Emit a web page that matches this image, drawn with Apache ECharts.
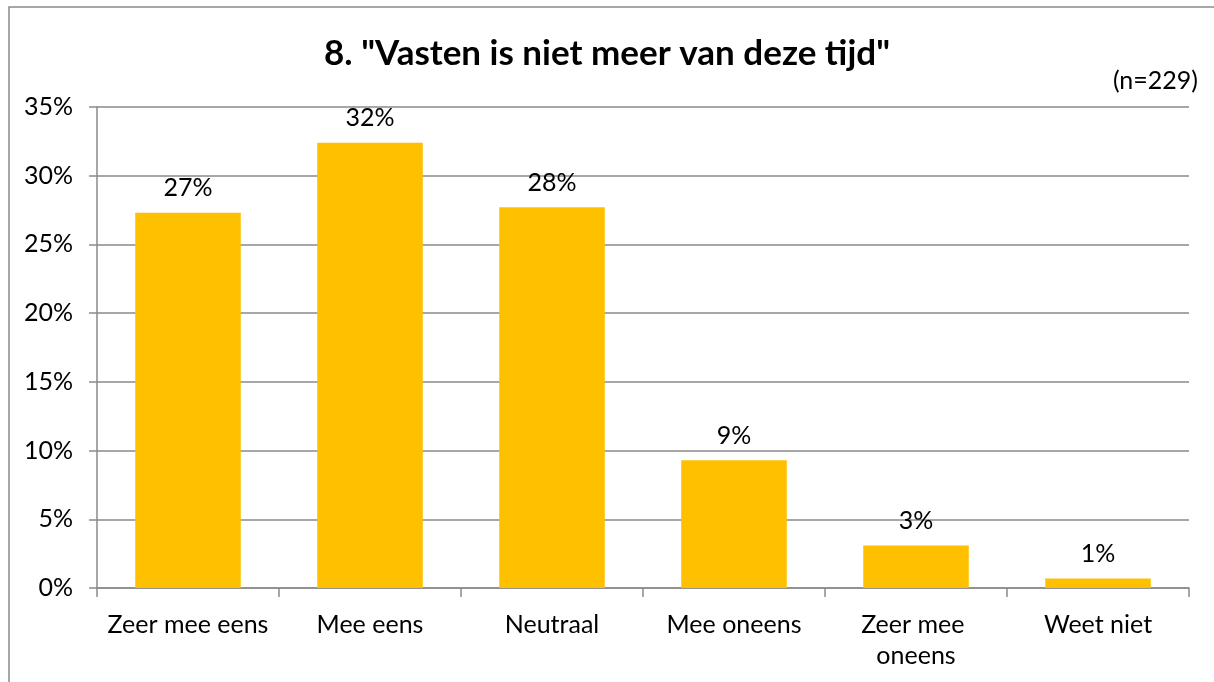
<!DOCTYPE html>
<html>
<head>
<meta charset="utf-8">
<script src="https://cdn.jsdelivr.net/npm/echarts@6/dist/echarts.min.js"></script>
<style>
html,body{margin:0;padding:0;background:#fff;}
#chart{width:1214px;height:682px;}
</style>
</head>
<body>
<div id="chart"></div>
<script>
const categories = ['Zeer mee eens', 'Mee eens', 'Neutraal', 'Mee oneens', 'Zeer mee oneens', 'Weet niet'];
const values = [27.3, 32.4, 27.7, 9.3, 3.1, 0.7];
const yTicks = [0, 5, 10, 15, 20, 25, 30, 35];
const titleText = '8. "Vasten is niet meer van deze tijd"';
const noteText = '(n=229)';

const FONT = 'Lato';
const chart = echarts.init(document.getElementById('chart'));
chart.setOption({
  animation: false,
  backgroundColor: '#fff',
  title: {
    text: titleText,
    left: 'center',
    top: 31,
    textStyle: { fontFamily: FONT, fontWeight: 'bold', fontSize: 35, color: '#000' }
  },
  graphic: [
    { type: 'rect', shape: { x: 9, y: 7, width: 1400, height: 900 }, style: { fill: 'none', stroke: '#8a8a8a', lineWidth: 1.5 }, silent: true },
    { type: 'text', right: 16, top: 68, style: { text: noteText, font: '25px ' + FONT, fill: '#000' } }
  ],
  grid: { left: 97, right: 25, top: 107, bottom: 94, containLabel: false },
  xAxis: {
    type: 'category',
    data: categories,
    axisLine: { lineStyle: { color: '#8a8a8a', width: 1.5 } },
    axisTick: { show: true, length: 9, lineStyle: { color: '#8a8a8a', width: 1.5 } },
    axisLabel: { fontFamily: FONT, fontSize: 25, color: '#000', margin: 21, lineHeight: 31, width: 176, overflow: 'break', interval: 0 }
  },
  yAxis: {
    type: 'value',
    min: yTicks[0],
    max: yTicks[yTicks.length - 1],
    interval: 5,
    axisLine: { show: true, lineStyle: { color: '#8a8a8a', width: 1.5 } },
    axisTick: { show: true, length: 8, lineStyle: { color: '#8a8a8a', width: 1.5 } },
    splitLine: { lineStyle: { color: '#8a8a8a', width: 1.5 } },
    axisLabel: { fontFamily: FONT, fontSize: 25, color: '#000', margin: 24, formatter: '{value}%' }
  },
  series: [{
    type: 'bar',
    data: values,
    barWidth: '58%',
    itemStyle: { color: '#FFC000' },
    label: {
      show: true,
      position: 'top',
      distance: 12,
      fontFamily: FONT,
      fontSize: 25,
      color: '#000',
      formatter: p => Math.round(p.value) + '%'
    }
  }]
});
</script>
</body>
</html>
